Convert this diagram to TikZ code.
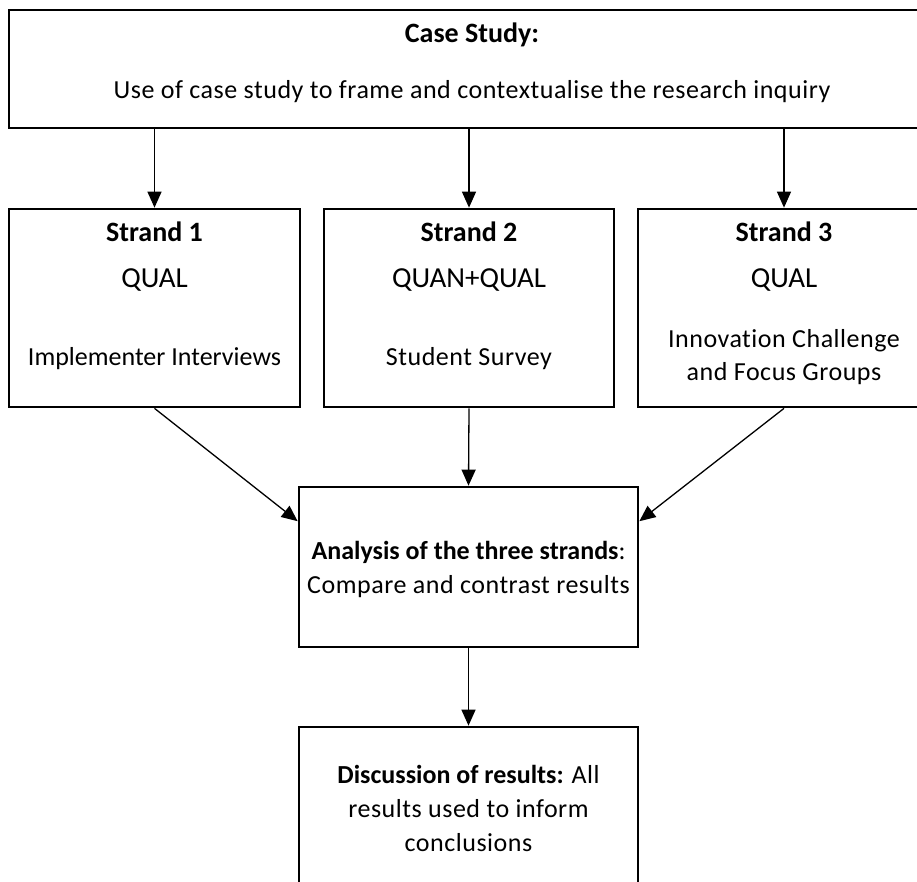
\documentclass[tikz,border=0pt]{standalone}
\usepackage{fontspec}
\setmainfont{Carlito}[Ligatures=NoCommon]
\usetikzlibrary{arrows.meta,calc}

\begin{document}
\begin{tikzpicture}[x=1pt,y=-1pt,
  box/.style={draw,line width=2.7pt,rectangle,inner sep=0pt},
  conn/.style={line width=1.3pt,-{Triangle[length=16pt,width=14pt]}},
  txt/.style={anchor=base,inner sep=0pt,font=\fontsize{26}{30}\selectfont},
  sptxt/.style={anchor=base,inner sep=0pt,font=\fontsize{26}{30}\selectfont\addfontfeature{LetterSpace=2}},
  head/.style={anchor=base,inner sep=0pt,font=\fontsize{28}{32}\selectfont\bfseries},
  kind/.style={anchor=base,inner sep=0pt,font=\fontsize{29}{34}\selectfont}]
\clip (0,0) rectangle (917,881);
\useasboundingbox (0,0) rectangle (917,881);

% boxes
\node[box,minimum width=926pt,minimum height=118pt] (top) at (472,69) {};
\node[box,minimum width=291pt,minimum height=198pt] (s1) at (154.5,308) {};
\node[box,minimum width=290pt,minimum height=198pt] (s2) at (469,308) {};
\node[box,minimum width=292pt,minimum height=198pt] (s3) at (784,308) {};
\node[box,minimum width=339pt,minimum height=160pt] (ana) at (468.5,567) {};
\node[box,minimum width=339pt,minimum height=180pt] (disc) at (468.5,817) {};

% texts
\node[head] (toptitle) at (472,42) {Case Study:};
\node[sptxt] (toptext) at (472,98) {Use of case study to frame and contextualise the research inquiry};

\node[head] (s1title) at (154.5,241) {Strand 1};
\node[kind] (s1kind) at (154.5,287) {QUAL};
\node[txt] (s1data) at (154.5,365) {Implementer Interviews};

\node[head] (s2title) at (469,241) {Strand 2};
\node[kind] (s2kind) at (469,287) {QUAN+QUAL};
\node[sptxt] (s2data) at (469,365) {Student Survey};

\node[head] (s3title) at (784,241) {Strand 3};
\node[kind] (s3kind) at (784,287) {QUAL};
\node[sptxt] (s3dataa) at (784,347) {Innovation Challenge};
\node[sptxt] (s3datab) at (784,380) {and Focus Groups};

\node[txt] (anaa) at (468.5,559) {\textbf{Analysis of the three strands}:};
\node[sptxt] (anab) at (468.5,593) {Compare and contrast results};

\node[txt] (disca) at (468.5,783) {\textbf{Discussion of results:} {\addfontfeature{LetterSpace=2}All}};
\node[sptxt] (discb) at (468.5,817) {results used to inform};
\node[sptxt] (discc) at (468.5,851) {conclusions};

% connectors
\draw[conn] (top.south -| s1) -- (s1.north);
\draw[conn] (top.south -| s2) -- (s2.north);
\draw[conn] (top.south -| s3) -- (s3.north);
\draw[conn] (s1.south) -- (ana.165);
\draw[conn] (s2.south) -- (ana.north);
\draw[conn] (s3.south) -- (ana.15);
\draw[conn] (ana.south) -- (disc.north);
\end{tikzpicture}
\end{document}
